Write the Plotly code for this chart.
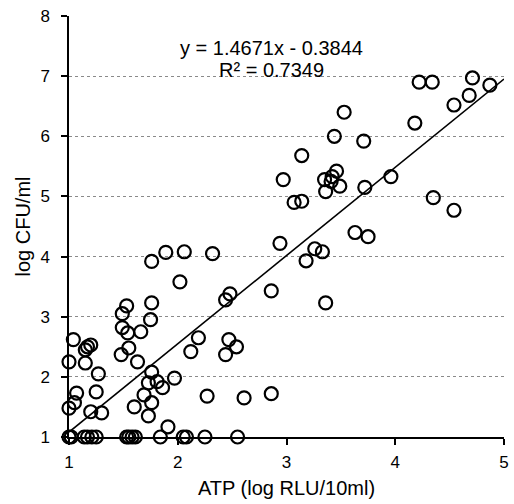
import plotly.graph_objects as go

# ATP (log RLU/10ml) values
atp = [4.22, 4.34, 4.71, 4.87, 4.68, 4.54, 4.18, 3.96, 4.35, 4.54,
       3.53, 3.44, 3.71, 3.14, 2.97, 3.35, 3.46, 3.42, 3.41, 3.49,
       3.36, 3.72, 3.07, 3.14, 3.63, 3.75, 2.94, 3.26, 3.33, 3.18,
       2.86, 3.36,
       1.76, 1.89, 2.06, 2.32, 2.02, 2.44, 2.48, 1.53, 1.49, 1.76,
       1.75, 1.49, 1.54, 1.66, 1.04, 1.20, 1.17, 1.15, 2.19, 2.47,
       2.54, 2.12, 2.44, 1.00, 1.15, 1.55, 1.48, 1.63, 1.27, 1.76,
       1.97, 1.73, 1.81, 1.86, 1.25, 1.07, 1.69, 2.27, 2.61, 2.86,
       1.05, 1.00, 1.76, 1.60, 1.20, 1.30, 1.73, 1.91,
       1.00, 1.02, 1.14, 1.17, 1.21, 1.25, 1.53, 1.55, 1.58, 1.61,
       1.84, 2.05, 2.08, 2.25, 2.55]

# log CFU/ml values
cfu = [6.90, 6.90, 6.97, 6.85, 6.68, 6.52, 6.22, 5.33, 4.98, 4.77,
       6.40, 6.00, 5.92, 5.68, 5.28, 5.28, 5.42, 5.33, 5.25, 5.17,
       5.08, 5.15, 4.90, 4.92, 4.40, 4.33, 4.22, 4.13, 4.08, 3.93,
       3.43, 3.23,
       3.92, 4.07, 4.08, 4.05, 3.58, 3.28, 3.38, 3.18, 3.05, 3.23,
       2.95, 2.82, 2.73, 2.75, 2.62, 2.53, 2.50, 2.45, 2.65, 2.62,
       2.50, 2.42, 2.37, 2.25, 2.23, 2.48, 2.37, 2.25, 2.05, 2.08,
       1.98, 1.90, 1.92, 1.82, 1.75, 1.73, 1.70, 1.68, 1.65, 1.72,
       1.57, 1.48, 1.57, 1.50, 1.42, 1.40, 1.35, 1.17,
       1.00, 1.00, 1.00, 1.00, 1.00, 1.00, 1.00, 1.00, 1.00, 1.00,
       1.00, 1.00, 1.00, 1.00, 1.00]

slope = 1.4671
intercept = -0.3844
r2 = 0.7349
trend_x = [1, 5]
trend_y = [slope * v + intercept for v in trend_x]

x_ticks = [1, 2, 3, 4, 5]
y_ticks = [1, 2, 3, 4, 5, 6, 7, 8]

FONT = "Liberation Sans, Arial, sans-serif"

fig = go.Figure()
fig.add_trace(go.Scatter(
    x=trend_x, y=trend_y, mode="lines",
    line=dict(color="black", width=1.6),
    hoverinfo="skip", showlegend=False, cliponaxis=False))
fig.add_trace(go.Scatter(
    x=atp, y=cfu, mode="markers",
    marker=dict(symbol="circle", size=13, color="rgba(0,0,0,0)",
                line=dict(color="black", width=2.2)),
    showlegend=False, cliponaxis=False))

fig.add_annotation(x=2.864, y=7.47, xref="x", yref="y",
                   text=f"y = {slope}x - {abs(intercept)}", showarrow=False,
                   font=dict(family=FONT, size=20, color="black"))
fig.add_annotation(x=2.864, y=7.11, xref="x", yref="y",
                   text=f"R² = {r2}", showarrow=False,
                   font=dict(family=FONT, size=20, color="black"))

fig.update_layout(
    width=514, height=504,
    margin=dict(l=69, r=5, t=16, b=67),
    paper_bgcolor="white", plot_bgcolor="white",
    font=dict(family=FONT, color="black"),
    xaxis=dict(range=[1, 5], tickvals=x_ticks, showgrid=False, zeroline=False,
               showline=True, linecolor="black", linewidth=1.5,
               ticks="outside", ticklen=6, tickcolor="black", tickwidth=1.5,
               tickfont=dict(size=17), ticklabelstandoff=3,
               ticklabeloverflow="allow",
               title=dict(text="ATP (log RLU/10ml)", font=dict(size=20), standoff=10)),
    yaxis=dict(range=[1, 8], tickvals=y_ticks, showgrid=True,
               gridcolor="#8a8a8a", griddash="dot", gridwidth=1, zeroline=False,
               showline=True, linecolor="black", linewidth=1.5,
               ticks="outside", ticklen=6, tickcolor="black", tickwidth=1.5,
               tickfont=dict(size=17), ticklabelstandoff=8,
               ticklabeloverflow="allow",
               title=dict(text="log CFU/ml", font=dict(size=20), standoff=4)),
)

fig.write_html("out.html",
               config={"displayModeBar": False},
               post_script="document.body.style.margin='0';document.body.style.overflow='hidden';")
